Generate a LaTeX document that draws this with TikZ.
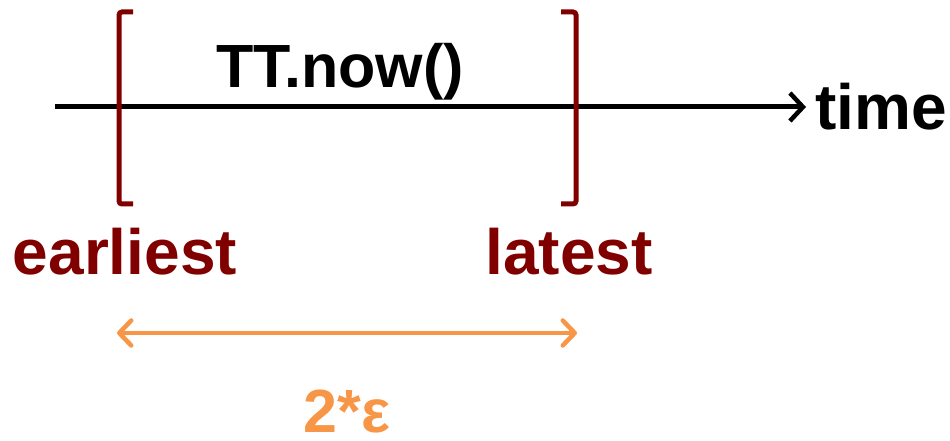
\documentclass[tikz,border=0pt]{standalone}
\usepackage{fontspec}
\setmainfont{Liberation Sans}
\usetikzlibrary{arrows.meta}
\definecolor{maroon}{HTML}{800000}
\definecolor{eporange}{HTML}{F79646}
\tikzset{
  lbl/.style={font=\bfseries\fontsize{64}{70}\selectfont, inner sep=0pt, anchor=base},
  brk/.style={draw=maroon, line width=5pt, rounded corners=3pt},
  tline/.style={draw=black, line width=5pt, -{Straight Barb[length=13pt,width=28pt,line width=4.5pt]}},
  span/.style={draw=eporange, line width=4.5pt, {Straight Barb[length=12pt,width=25pt,line width=4.5pt,round]}-{Straight Barb[length=12pt,width=25pt,line width=4.5pt,round]}}
}
\begin{document}
\begin{tikzpicture}[x=1pt,y=1pt]
\useasboundingbox (0,0) rectangle (950,441);
% timeline
\coordinate (t0) at (55,334);
\node[lbl, anchor=base west] (time) at (815,311) {time};
\coordinate (t1) at (806,334);
\draw[tline] (t0) -- (t1);
% brackets
\coordinate (lbT) at (133,429);
\coordinate (lbB) at (133,237);
\coordinate (rbT) at (561,429);
\coordinate (rbB) at (561,237);
\draw[brk] (lbT) -- (119,429) -- (119,237) -- (lbB);
\draw[brk] (rbT) -- (576,429) -- (576,237) -- (rbB);
% labels
\node[lbl, font=\bfseries\fontsize{61}{66}\selectfont] (now) at (340,353) {TT.now()};
\node[lbl, text=maroon] (earliest) at (125,166) {earliest};
\node[lbl, text=maroon] (latest) at (569,166) {latest};
% span arrow
\coordinate (s0) at (117,108);
\coordinate (s1) at (577,108);
\draw[span] (s0) -- (s1);
\node[lbl, text=eporange, font=\bfseries\fontsize{61}{66}\selectfont] (eps) at (347,8) {2*ε};
\end{tikzpicture}
\end{document}
